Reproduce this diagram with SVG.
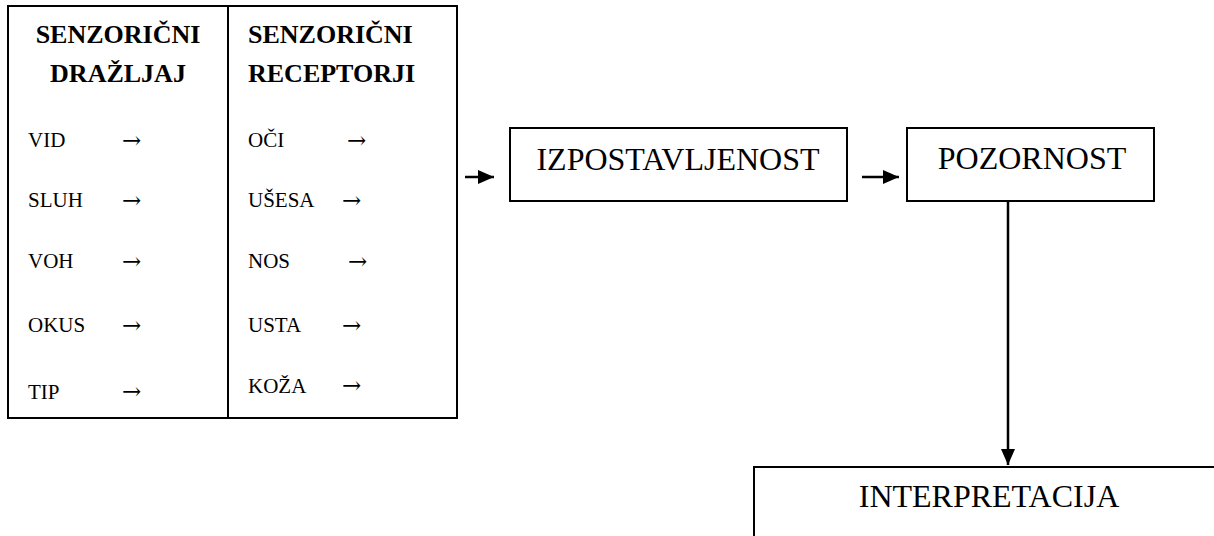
<svg xmlns="http://www.w3.org/2000/svg" width="1214" height="536" viewBox="0 0 1214 536">
<style>
.box{fill:none;stroke:#000;stroke-width:2}
.hd{font-family:"Liberation Serif",serif;font-weight:bold;font-size:26px;fill:#000}
.it{font-family:"Liberation Serif",serif;font-size:21px;fill:#000}
.ar{font-family:"DejaVu Serif",serif;font-size:23px;fill:#000}
.bt{font-family:"Liberation Serif",serif;font-size:32px;fill:#000;text-anchor:middle}
.con{fill:none;stroke:#000;stroke-width:2.5}
</style>
<defs>
<marker id="ah" markerWidth="17" markerHeight="15" refX="16" refY="7.5" orient="auto" markerUnits="userSpaceOnUse">
<path d="M0,0.5 L16,7.5 L0,14.5 Z" fill="#000"/>
</marker>
</defs>
<rect width="1214" height="536" fill="#fff"/>
<g id="senzor">
<rect class="box" x="8" y="6" width="449" height="412"/>
<line class="box" x1="228" y1="6" x2="228" y2="418"/>
<text class="hd" x="118" y="43" text-anchor="middle">SENZORIČNI</text>
<text class="hd" x="118" y="82" text-anchor="middle">DRAŽLJAJ</text>
<text class="hd" x="248" y="43">SENZORIČNI</text>
<text class="hd" x="248" y="82">RECEPTORJI</text>
<text class="it" x="28" y="147">VID</text>
<text class="it" x="28" y="207">SLUH</text>
<text class="it" x="28" y="268">VOH</text>
<text class="it" x="28" y="332">OKUS</text>
<text class="it" x="28" y="399">TIP</text>
<text class="ar" x="122" y="148">→</text>
<text class="ar" x="122" y="208">→</text>
<text class="ar" x="122" y="269">→</text>
<text class="ar" x="122" y="333">→</text>
<text class="ar" x="122" y="399">→</text>
<text class="it" x="248" y="147">OČI</text>
<text class="it" x="248" y="207">UŠESA</text>
<text class="it" x="248" y="268">NOS</text>
<text class="it" x="248" y="332">USTA</text>
<text class="it" x="248" y="393">KOŽA</text>
<text class="ar" x="347" y="148">→</text>
<text class="ar" x="342" y="208">→</text>
<text class="ar" x="348" y="269">→</text>
<text class="ar" x="342" y="333">→</text>
<text class="ar" x="342" y="393">→</text>
</g>
<g id="izpostavljenost">
<rect class="box" x="510" y="128" width="337" height="73"/>
<text class="bt" x="678" y="170">IZPOSTAVLJENOST</text>
</g>
<g id="pozornost">
<rect class="box" x="907" y="128" width="247" height="73"/>
<text class="bt" x="1032" y="169">POZORNOST</text>
</g>
<g id="interpretacija">
<rect class="box" x="754" y="467" width="470" height="80"/>
<text class="bt" x="989" y="507">INTERPRETACIJA</text>
</g>
<g id="connectors">
<line class="con" x1="465" y1="177" x2="494" y2="177" marker-end="url(#ah)"/>
<line class="con" x1="862" y1="177" x2="899" y2="177" marker-end="url(#ah)"/>
<line class="con" x1="1008" y1="201" x2="1008" y2="465" stroke-width="2" marker-end="url(#ah)"/>
</g>
</svg>
